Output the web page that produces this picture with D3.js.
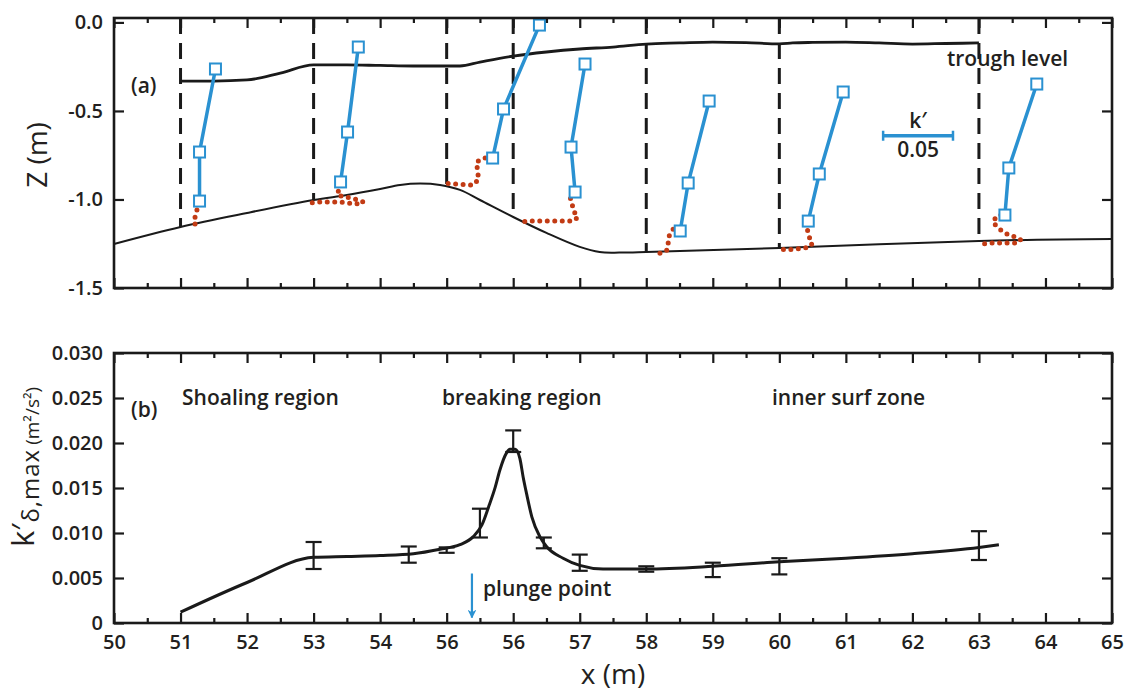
<head>
    <meta charset="utf-8">
    <script src="https://d3js.org/d3.v7.min.js"></script>
    <style>
        body { margin: 0; background: #fff; }
        svg text { font-family: "Open Sans", sans-serif; fill: #231f20; }
        .tick text { font-size: 20px; font-weight: 600; }
        .lbl { font-size: 21px; font-weight: 600; }
        .title { font-size: 28px; font-weight: 400; }
    </style>
</head>

<body>

<svg width="1128" height="691"></svg>

<script>

    // ---- panel (a): profiles ----
    var stations = [51, 53, 55, 56, 58, 60, 63];

    var troughX = [51, 51.5, 52, 52.5, 53, 53.5, 54, 54.5, 55, 55.2, 55.5, 56, 56.5, 57, 57.5, 58, 58.5, 59, 59.5, 60, 60.2, 60.5, 61, 61.5, 62, 62.5, 63];
    var troughZ = [-0.331, -0.331, -0.325, -0.286, -0.240, -0.240, -0.243, -0.246, -0.246, -0.246, -0.224, -0.190, -0.167, -0.150, -0.139, -0.122, -0.116, -0.111, -0.114, -0.121, -0.116, -0.113, -0.111, -0.116, -0.122, -0.119, -0.116];

    var bedX = [50, 51, 52, 53, 53.5, 54, 54.3, 54.6, 54.9, 55.2, 55.5, 56, 56.5, 57, 57.3, 57.6, 58, 60, 63, 65];
    var bedZ = [-1.251, -1.155, -1.076, -1.003, -0.975, -0.941, -0.918, -0.910, -0.918, -0.946, -1.003, -1.099, -1.189, -1.268, -1.297, -1.300, -1.297, -1.274, -1.234, -1.223];

    // k' at the three measurement heights of each station
    var squareK = [
        [0.0250, 0.0136, 0.0136],
        [0.0320, 0.0243, 0.0193],
        [0.0664, 0.0407, 0.0329],
        [0.0514, 0.0414, 0.0443],
        [0.0450, 0.0300, 0.0243],
        [0.0457, 0.0286, 0.0207],
        [0.0414, 0.0214, 0.0186]
    ];
    var squareZ = [
        [-0.263, -0.732, -1.009],
        [-0.139, -0.619, -0.901],
        [-0.015, -0.489, -0.766],
        [-0.235, -0.704, -0.958],
        [-0.444, -0.907, -1.178],
        [-0.393, -0.856, -1.122],
        [-0.348, -0.822, -1.088]
    ];

    // near-bed k' (dotted)
    var nearBedK = [
        [0.0136, 0.0121, 0.0107, 0.0093, 0.0114, 0.0136],
        [0.0193, 0.0179, 0.0171, 0.0229, 0.0293, 0.0357, 0.0300, 0.0243, 0.0186, 0.0129, 0.0079, 0.0029, -0.0029],
        [0.0329, 0.0271, 0.0214, 0.0221, 0.0229, 0.0193, 0.0143, 0.0093, 0.0036, -0.0014],
        [0.0443, 0.0407, 0.0421, 0.0436, 0.0464, 0.0429, 0.0379, 0.0329, 0.0271, 0.0214, 0.0164, 0.0107, 0.0050],
        [0.0243, 0.0193, 0.0164, 0.0157, 0.0150, 0.0114, 0.0057],
        [0.0207, 0.0200, 0.0214, 0.0236, 0.0221, 0.0179, 0.0114, 0.0064, 0.0007],
        [0.0157, 0.0129, 0.0100, 0.0136, 0.0179, 0.0221, 0.0271, 0.0300, 0.0257, 0.0200, 0.0143, 0.0079, 0.0029]
    ];
    var nearBedZ = [
        [-1.020, -1.048, -1.093, -1.127, -1.150, -1.167],
        [-0.913, -0.946, -0.975, -0.986, -0.997, -1.014, -1.026, -1.020, -1.014, -1.014, -1.014, -1.014, -1.020],
        [-0.766, -0.766, -0.788, -0.839, -0.884, -0.918, -0.918, -0.913, -0.913, -0.907],
        [-0.969, -0.986, -1.026, -1.071, -1.099, -1.122, -1.122, -1.122, -1.122, -1.122, -1.122, -1.122, -1.127],
        [-1.178, -1.167, -1.206, -1.246, -1.285, -1.302, -1.308],
        [-1.133, -1.167, -1.212, -1.246, -1.268, -1.274, -1.280, -1.285, -1.280],
        [-1.088, -1.093, -1.127, -1.161, -1.184, -1.206, -1.212, -1.229, -1.246, -1.246, -1.246, -1.246, -1.251]
    ];

    var scaleBarK = 0.05;
    var zTicks = [0, -0.5, -1.0, -1.5];
    var zTickLabels = ["0.0", "-0.5", "-1.0", "-1.5"];

    // ---- panel (b): k' max ----
    var fitX = [51, 52, 53, 53.5, 54, 54.5, 54.9, 55.2, 55.4, 55.53, 55.63, 55.73, 55.8, 55.9, 55.95, 56.03, 56.1, 56.15, 56.2, 56.28, 56.4, 56.5, 56.75, 57, 57.35, 58, 59, 60, 61, 62, 63, 63.3];
    var fitK = [0.0012, 0.0045, 0.0073, 0.0074, 0.0075, 0.0077, 0.0082, 0.0087, 0.0096, 0.0109, 0.0129, 0.0151, 0.0170, 0.0189, 0.0193, 0.0193, 0.0183, 0.0162, 0.0144, 0.0118, 0.0096, 0.0085, 0.0072, 0.0064, 0.0060, 0.0060, 0.0063, 0.0068, 0.0072, 0.0077, 0.0084, 0.0087];

    var measX = [53, 54.43, 55, 55.5, 56, 56.46, 57, 58, 59, 60, 63];
    var measK = [0.0075, 0.0076, 0.0081, 0.0111, 0.0202, 0.0089, 0.0067, 0.0060, 0.0059, 0.0063, 0.0086];
    var measErr = [0.0015, 0.0009, 0.0003, 0.0016, 0.0012, 0.0006, 0.0009, 0.0003, 0.0008, 0.0009, 0.0016];

    var plungeX = 55.38;
    var kTicks = [0, 0.005, 0.010, 0.015, 0.020, 0.025, 0.030];
    var kTickLabels = ["0", "0.005", "0.010", "0.015", "0.020", "0.025", "0.030"];
    var xTicks = d3.range(50, 66);
    var xTickLabels = ["50", "51", "52", "53", "54", "56", "56", "57", "58", "59", "60", "61", "62", "63", "64", "65"];

    //
    // scales
    //

    var svg = d3.select("svg");
    var blue = "#2a91d1", red = "#c23b14", ink = "#1a1a1a";
    var kToX = 21;   // metres of x per unit k' in panel (a)

    var x = d3.scaleLinear().domain([50, 65]).range([114, 1112]);
    var z = d3.scaleLinear().domain([-1.5, 0.025]).range([288, 18]);
    var k = d3.scaleLinear().domain([0, 0.03]).range([623, 353]);

    function frame(y0, y1, yScale, ticks, labels, showX) {
        var g = svg.append("g");
        var minor = d3.range(50.5, 65, 1);

        g.append("g").attr("transform", "translate(0," + y1 + ")")
            .call(d3.axisBottom(x).tickValues(xTicks).tickSize(-10).tickPadding(12)
                .tickFormat((d, i) => showX ? xTickLabels[i] : ""));
        g.append("g").attr("transform", "translate(0," + y1 + ")")
            .call(d3.axisBottom(x).tickValues(minor).tickSize(-5).tickFormat(""));
        g.append("g").attr("transform", "translate(0," + y0 + ")")
            .call(d3.axisTop(x).tickValues(xTicks).tickSize(-10).tickFormat(""));
        g.append("g").attr("transform", "translate(0," + y0 + ")")
            .call(d3.axisTop(x).tickValues(minor).tickSize(-5).tickFormat(""));
        g.append("g").attr("transform", "translate(114,0)")
            .call(d3.axisLeft(yScale).tickValues(ticks).tickSize(-10).tickPadding(11)
                .tickFormat((d, i) => labels[i]));
        g.append("g").attr("transform", "translate(1112,0)")
            .call(d3.axisRight(yScale).tickValues(ticks).tickSize(-10).tickFormat(""));

        g.selectAll(".domain").remove();
        g.selectAll(".tick line").attr("stroke", ink).attr("stroke-width", 2.2);

        g.append("rect")
            .attr("x", 114).attr("y", y0)
            .attr("width", 1112 - 114).attr("height", y1 - y0)
            .attr("fill", "none").attr("stroke", ink).attr("stroke-width", 2.6);
    }

    //
    // panel (a)
    //

    // dashed station lines, from top down to the bed
    var bedAt = d3.scaleLinear().domain(bedX).range(bedZ);
    svg.selectAll(".station")
        .data(stations)
        .enter().append("line")
        .attr("x1", d => x(d)).attr("x2", d => x(d))
        .attr("y1", z(0.025)).attr("y2", d => z(bedAt(d)))
        .attr("stroke", ink).attr("stroke-width", 3)
        .attr("stroke-dasharray", "16,9");

    svg.append("path")
        .attr("d", d3.line().x(d => x(d[0])).y(d => z(d[1])).curve(d3.curveMonotoneX)(troughX.map((d, i) => [d, troughZ[i]])))
        .attr("fill", "none").attr("stroke", ink).attr("stroke-width", 2.8);

    svg.append("path")
        .attr("d", d3.line().x(d => x(d[0])).y(d => z(d[1])).curve(d3.curveCatmullRom)(bedX.map((d, i) => [d, bedZ[i]])))
        .attr("fill", "none").attr("stroke", ink).attr("stroke-width", 2);

    var pline = d3.line().x(d => x(d[0])).y(d => z(d[1]));

    stations.forEach(function(s, j) {
        var nb = nearBedK[j].map((kv, i) => [s + kv * kToX, nearBedZ[j][i]]);
        svg.append("path")
            .attr("d", pline(nb))
            .attr("fill", "none").attr("stroke", red).attr("stroke-width", 5)
            .attr("stroke-linecap", "round").attr("stroke-dasharray", "0,7.5");

        var sq = squareK[j].map((kv, i) => [s + kv * kToX, squareZ[j][i]]);
        svg.append("path")
            .attr("d", pline(sq))
            .attr("fill", "none").attr("stroke", blue).attr("stroke-width", 3.5);

        svg.selectAll(null)
            .data(sq)
            .enter().append("rect")
            .attr("x", d => x(d[0]) - 5.5).attr("y", d => z(d[1]) - 5.5)
            .attr("width", 11).attr("height", 11)
            .attr("fill", "#fff").attr("stroke", blue).attr("stroke-width", 2);
    });

    // scale bar for k'
    var sbX0 = 61.56, sbZ = -0.64;
    var sbX1 = sbX0 + scaleBarK * kToX;
    svg.append("line")
        .attr("x1", x(sbX0)).attr("x2", x(sbX1)).attr("y1", z(sbZ)).attr("y2", z(sbZ))
        .attr("stroke", blue).attr("stroke-width", 3.5);
    [sbX0, sbX1].forEach(function(d) {
        svg.append("line")
            .attr("x1", x(d)).attr("x2", x(d)).attr("y1", z(sbZ) - 5).attr("y2", z(sbZ) + 5)
            .attr("stroke", blue).attr("stroke-width", 2.5);
    });
    svg.append("text").attr("class", "lbl")
        .attr("x", x((sbX0 + sbX1) / 2)).attr("y", z(sbZ) - 8)
        .attr("text-anchor", "middle").text("k′");
    svg.append("text").attr("class", "lbl")
        .attr("x", x((sbX0 + sbX1) / 2)).attr("y", z(sbZ) + 21)
        .attr("text-anchor", "middle").text(d3.format(".2f")(scaleBarK));

    frame(18, 288, z, zTicks, zTickLabels, false);

    svg.append("text").attr("class", "lbl").attr("x", 131).attr("y", 93).text("(a)");
    svg.append("text").attr("class", "lbl").attr("x", 947).attr("y", 66).text("trough level");

    svg.append("text").attr("class", "title")
        .attr("transform", "translate(47,155) rotate(-90)")
        .attr("text-anchor", "middle").text("Z (m)");

    //
    // panel (b)
    //

    svg.append("path")
        .attr("d", d3.line().x(d => x(d[0])).y(d => k(d[1])).curve(d3.curveMonotoneX)(fitX.map((d, i) => [d, fitK[i]])))
        .attr("fill", "none").attr("stroke", ink).attr("stroke-width", 3);

    var bars = svg.selectAll(".err")
        .data(measX.map((d, i) => ({x: d, k: measK[i], e: measErr[i]})))
        .enter().append("g").attr("class", "err")
        .attr("stroke", ink).attr("stroke-width", 2.2);

    bars.append("line")
        .attr("x1", d => x(d.x)).attr("x2", d => x(d.x))
        .attr("y1", d => k(d.k - d.e)).attr("y2", d => k(d.k + d.e));
    bars.append("line")
        .attr("x1", d => x(d.x) - 8).attr("x2", d => x(d.x) + 8)
        .attr("y1", d => k(d.k - d.e)).attr("y2", d => k(d.k - d.e));
    bars.append("line")
        .attr("x1", d => x(d.x) - 8).attr("x2", d => x(d.x) + 8)
        .attr("y1", d => k(d.k + d.e)).attr("y2", d => k(d.k + d.e));

    // plunge point arrow
    svg.append("defs").append("marker")
        .attr("id", "arrow").attr("viewBox", "0 0 10 10")
        .attr("refX", 9).attr("refY", 5)
        .attr("markerWidth", 4).attr("markerHeight", 4).attr("orient", "auto")
        .append("path").attr("d", "M0,0 L10,5 L0,10 L3,5 Z").attr("fill", blue);
    svg.append("line")
        .attr("x1", x(plungeX)).attr("x2", x(plungeX))
        .attr("y1", k(0.0055)).attr("y2", k(0.0006))
        .attr("stroke", blue).attr("stroke-width", 2.2)
        .attr("marker-end", "url(#arrow)");
    svg.append("text").attr("class", "lbl").attr("x", 483).attr("y", 596).text("plunge point");

    frame(353, 623, k, kTicks, kTickLabels, true);

    svg.append("text").attr("class", "lbl").attr("x", 131).attr("y", 417).text("(b)");
    svg.append("text").attr("class", "lbl").attr("x", 182).attr("y", 405).text("Shoaling region");
    svg.append("text").attr("class", "lbl").attr("x", 442).attr("y", 405).text("breaking region");
    svg.append("text").attr("class", "lbl").attr("x", 772).attr("y", 405).text("inner surf zone");

    svg.append("text").attr("class", "title")
        .attr("x", x(57.5)).attr("y", 684)
        .attr("text-anchor", "middle").text("x (m)");

    var yl = svg.append("text")
        .attr("transform", "translate(34,547) rotate(-90)");
    yl.append("tspan").style("font-size", "31px").text("k′");
    yl.append("tspan").style("font-size", "24px").style("letter-spacing", "1px")
        .attr("dy", 5).attr("dx", 1).text("δ,max");
    yl.append("tspan").style("font-size", "19px").attr("dx", 4).text("(m²/s²)");

</script>
</body>
